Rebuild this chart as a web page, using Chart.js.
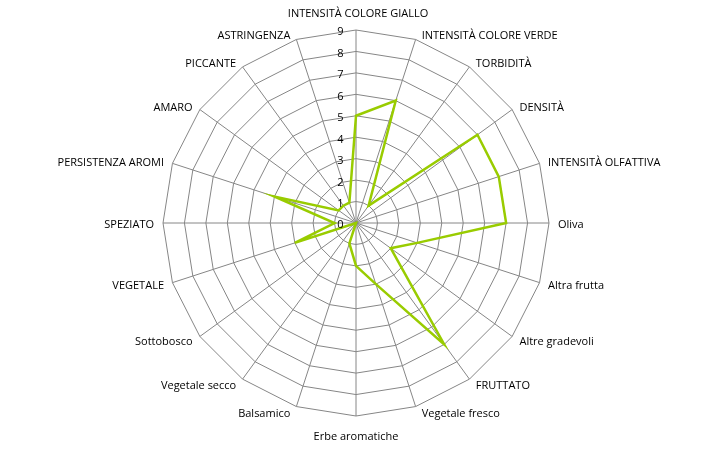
<!DOCTYPE html>
<html>
<head>
<meta charset="utf-8">
<script src="https://cdn.jsdelivr.net/npm/chart.js@4/dist/chart.umd.min.js"></script>
<style>
  html, body { margin: 0; padding: 0; background: #fff; }
  #wrap { width: 714px; height: 453px; }
</style>
</head>
<body>
<div id="wrap"><canvas id="c"></canvas></div>
<script>
// Sensory profile attributes, clockwise from the top
const categories = [
  "INTENSITÀ COLORE GIALLO", "INTENSITÀ COLORE VERDE", "TORBIDITÀ", "DENSITÀ",
  "INTENSITÀ OLFATTIVA", "Oliva", "Altra frutta", "Altre gradevoli", "FRUTTATO",
  "Vegetale fresco", "Erbe aromatiche", "Balsamico", "Vegetale secco", "Sottobosco",
  "VEGETALE", "SPEZIATO", "PERSISTENZA AROMI", "AMARO", "PICCANTE", "ASTRINGENZA"
];
// Panel scores (0–9)
const scores = [5, 6, 1, 7, 7, 7, 3, 2, 7, 3, 2, 1, 0, 0, 3, 1, 4, 1, 1, 1];
// Radial tick labels
const tickValues = [0, 1, 2, 3, 4, 5, 6, 7, 8, 9];

const FONT = "'Open Sans'";

// Scale numbers, placed just left of the vertical axis
const tickLabelPlugin = {
  id: "tickLabels",
  afterDatasetsDraw(chart) {
    const r = chart.scales.r;
    const ctx = chart.ctx;
    ctx.save();
    ctx.font = "11px " + FONT;
    ctx.fillStyle = "#000";
    ctx.textAlign = "right";
    ctx.textBaseline = "alphabetic";
    tickValues.forEach(v => {
      const y = r.yCenter - r.getDistanceFromCenterForValue(v);
      ctx.fillText(String(v), r.xCenter - 12.5, y + 5.4);
    });
    ctx.restore();
  }
};

// Category names around the outer ring
const pointLabelPlugin = {
  id: "categoryLabels",
  afterDraw(chart) {
    const r = chart.scales.r;
    const ctx = chart.ctx;
    const n = categories.length;
    ctx.save();
    ctx.font = "11px " + FONT;
    ctx.fillStyle = "#000";
    ctx.textBaseline = "alphabetic";
    categories.forEach((name, i) => {
      const p = r.getPointPosition(i, r.drawingArea);
      const a = (i / n) * 2 * Math.PI;
      const s = Math.sin(a), c = Math.cos(a);
      let x = p.x, y = p.y;
      if (i === 0) {
        ctx.textAlign = "center";
        x += 2;
        y -= 13.2;
      } else if (i === n / 2) {
        ctx.textAlign = "center";
        y += 23.5;
      } else {
        const dx = 6 + 3 * Math.pow(s, 4);
        ctx.textAlign = s > 0 ? "left" : "right";
        x += s > 0 ? dx : -dx;
        y += -6 * c + 1 + 3.9;
      }
      ctx.fillText(name, x, y);
    });
    ctx.restore();
  }
};

new Chart(document.getElementById("c"), {
  type: "radar",
  data: {
    labels: categories,
    datasets: [{
      data: scores,
      borderColor: "#99CC00",
      borderWidth: 2.5,
      fill: false,
      tension: 0,
      pointRadius: 0,
      pointHoverRadius: 0
    }]
  },
  options: {
    responsive: true,
    maintainAspectRatio: false,
    animation: false,
    layout: { padding: { top: 30, bottom: 37, left: 0, right: 1 } },
    plugins: { legend: { display: false }, tooltip: { enabled: false } },
    scales: {
      r: {
        min: 0,
        max: 9,
        beginAtZero: true,
        ticks: { stepSize: 1, display: false },
        grid: { circular: false, color: "#868686", lineWidth: 1 },
        angleLines: { color: "#868686", lineWidth: 1 },
        pointLabels: { display: false }
      }
    }
  },
  plugins: [tickLabelPlugin, pointLabelPlugin]
});
</script>
</body>
</html>
